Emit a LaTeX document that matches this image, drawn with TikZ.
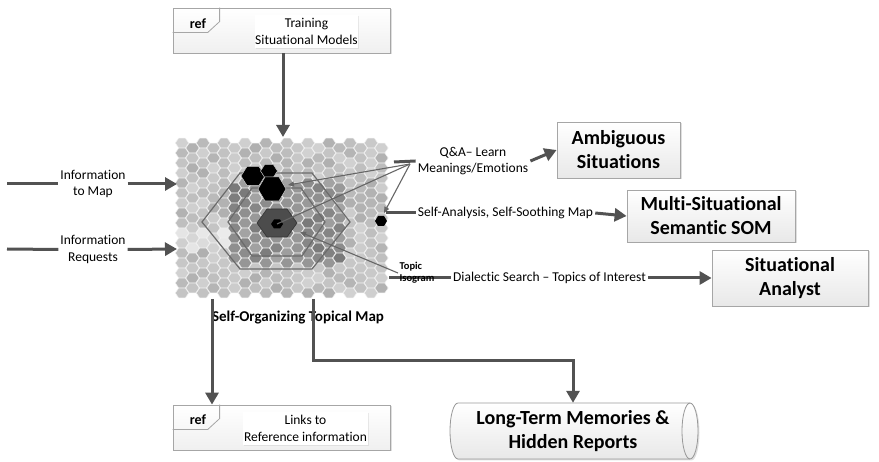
\documentclass[tikz,border=0pt]{standalone}
\usepackage{fontspec}
\setmainfont{Carlito}[Ligatures={NoCommon}]
\usetikzlibrary{arrows.meta,shadows,calc}

% flat-topped hexagon: centre x, centre y, half width, half height, path options
\newcommand\somhex[5]{\path[#5] (#1,#2) +(-#3,0) -- +(-#3/2,-#4) -- +(#3/2,-#4) -- +(#3,0) -- +(#3/2,#4) -- +(-#3/2,#4) -- cycle;}

\begin{document}
\begin{tikzpicture}[x=1pt,y=-1pt,
  conn/.style={draw=black!68, line width=3pt},
  connarrow/.style={conn, -{Triangle[length=12pt,width=13pt]}},
  thinline/.style={draw=black!60, line width=1.1pt},
  thinarrow/.style={thinline, -{Triangle[length=6pt,width=5pt]}},
  small/.style={font=\fontsize{13.5}{16.5}\selectfont, align=center, inner sep=2pt},
  boxshadow/.style={drop shadow={shadow xshift=1.5pt,shadow yshift=-1.5pt,opacity=0.25}},
  bigbox/.style={draw=black!35, line width=0.8pt, top color=white, bottom color=black!9,
    font=\bfseries\fontsize{20}{24}\selectfont, align=center, inner sep=0pt, boxshadow},
  refframe/.style={draw=black!35, line width=0.8pt, top color=white, bottom color=black!6,
    minimum width=217pt, minimum height=45pt, inner sep=0pt, boxshadow},
  reftab/.style={draw=black!35, line width=0.8pt},
  reftxt/.style={font=\bfseries\fontsize{14}{16}\selectfont, inner sep=0pt},
  reflabel/.style={fill=white, font=\fontsize{13.5}{16.5}\selectfont, align=center,
    minimum height=33pt, inner sep=0pt,
    drop shadow={shadow xshift=1pt,shadow yshift=-1pt,opacity=0.15}},
]
\useasboundingbox (0,0) rectangle (879,462);

% ---------- self-organizing map grid ----------
\foreach \c in {0,...,19}{
  \pgfmathtruncatemacro\odd{mod(\c,2)}
  \pgfmathtruncatemacro\nr{15-\odd}
  \foreach \r in {0,...,\nr}{
    \pgfmathsetmacro\hx{182+10.5*\c}
    \pgfmathsetmacro\hy{143+10*\r+5*\odd}
    \pgfmathtruncatemacro\v{mod(\c*37+\r*61+\c*\r*11,13)}
    \pgfmathtruncatemacro\inD{(\hx>227)*(\hx<350)*(\hy>181)*(\hy<264)}
    \pgfmathtruncatemacro\inL{(\hx<240)*(\hy>228)*(\hy<251)}
    \pgfmathtruncatemacro\sh{\inD*(36+1.4*\v)+\inL*(1-\inD)*(7+\v)+(1-\inD)*(1-\inL)*(18+1.1*\v)}
    \somhex{\hx}{\hy}{6.7}{4.8}{fill=black!\sh, draw=black!6, line width=0.5pt}
  }
}

% topic isogram rings
\draw[black!58, line width=1.2pt] (202,222) -- (240,173) -- (312,173) -- (350,222) -- (312,269) -- (240,269) -- cycle;
\draw[black!58, line width=1.2pt] (228,222) -- (252,188) -- (301,188) -- (325,222) -- (302,256) -- (252,256) -- cycle;

% centre of the map and highlighted cells
\somhex{277}{223}{20}{14}{fill=black!70, draw=black!80, line width=0.6pt}
\somhex{277}{224}{6}{4.5}{fill=black}
\somhex{253}{176}{12}{9.5}{fill=black, draw=black!20, line width=0.5pt}
\somhex{269}{171}{8.5}{6.5}{fill=black, draw=black!20, line width=0.5pt}
\somhex{272}{189}{14}{12}{fill=black, draw=black!20, line width=0.5pt}
\somhex{381}{221}{6}{5}{fill=black}

\node[font=\bfseries\fontsize{15}{18}\selectfont, inner sep=0pt] (title) at (298,318) {Self-Organizing Topical Map};

% ---------- reference boxes ----------
\node[refframe] (tbox) at (281.5,30.5) {};
\draw[reftab] ($(tbox.north west)+(47,0)$) -- ++(0,14) -- ++(-12,11) -- ($(tbox.north west)+(0,25)$);
\node[reftxt] (tref) at (198,24) {ref};
\node[reflabel, minimum width=103pt] (tlbl) at (306.5,31.5) {Training\\Situational Models};

\node[refframe] (lbox) at (281.5,427.5) {};
\draw[reftab] ($(lbox.north west)+(47,0)$) -- ++(0,14) -- ++(-12,11) -- ($(lbox.north west)+(0,25)$);
\node[reftxt] (lref) at (198,420) {ref};
\node[reflabel, minimum width=125pt] (llbl) at (305.5,428.5) {Links to\\Reference information};

% ---------- output boxes ----------
\node[bigbox, minimum width=123pt, minimum height=56pt] (amb) at (618.5,150) {Ambiguous\\Situations};
\node[bigbox, minimum width=168pt, minimum height=52pt] (multi) at (711,216) {Multi-Situational\\Semantic SOM};
\node[bigbox, minimum width=156pt, minimum height=56pt] (ana) at (790,278) {Situational\\Analyst};

% long-term storage cylinder
\path[draw=black!40, line width=0.8pt, top color=white, bottom color=black!9, boxshadow]
  (458,403) -- (690,403) arc[start angle=-90,end angle=90,x radius=8,y radius=28]
  -- (458,459) arc[start angle=90,end angle=270,x radius=8,y radius=28] -- cycle;
\draw[black!40, line width=0.8pt] (690,403) arc[start angle=270,end angle=90,x radius=8,y radius=28];
\node[font=\bfseries\fontsize{20}{24}\selectfont, align=center, minimum width=240pt,
  minimum height=56pt, inner sep=0pt] (ltm) at (573,431) {Long-Term Memories \&\\Hidden Reports};

% ---------- labels on the connectors ----------
\node[small] (inmap) at (93,184) {Information\\to Map};
\node[small] (inreq) at (93,249.5) {Information\\Requests};
\node[small] (qa) at (473,161) {Q\&A– Learn\\Meanings/Emotions};
\node[small] (sa) at (505.5,213) {Self-Analysis, Self-Soothing Map};
\node[small] (ds) at (549.5,278) {Dialectic Search – Topics of Interest};

% ---------- connectors ----------
\coordinate (inA) at (7,184);
\coordinate (inB) at (7,249);
\coordinate (somA) at (177,184);
\coordinate (somB) at (177,249);
\coordinate (somT) at (283,137);
\coordinate (somB1) at (212,299);
\coordinate (somB2) at (313,299);
\coordinate (eQA) at (394,162);
\coordinate (eSA) at (386,213);
\coordinate (eDS) at (389,278);

\draw[connarrow] (tbox.south -| somT) -- (somT);
\draw[conn] (inA) -- (inmap.west);
\draw[connarrow] (inmap.east) -- (somA);
\draw[conn] (inB) -- (inreq.west);
\draw[connarrow] (inreq.east) -- (somB);
\draw[connarrow] (somB1) -- (lbox.north -| somB1);
\draw[connarrow] (somB2) -- ++(0,62) -| (ltm.north);

\draw[conn] (eQA) -- (qa.west);
\draw[connarrow] (qa.east) -- (amb.west);
\draw[conn] (eSA) -- (sa.west);
\draw[connarrow] (sa.east) -- (multi.west);
\draw[conn] (eDS) -- (ds.west);
\draw[connarrow] (ds.east) -- (ana.west);

\node[font=\bfseries\fontsize{10.5}{11.5}\selectfont, align=left, inner sep=0pt] (iso) at (417,272.5) {Topic\\Isogram};

% pointers inside the map
\coordinate (hub) at (410,164);
\coordinate (tBH) at (288,185);
\coordinate (cBH) at (277,224);
\coordinate (rBH) at (384,213);
\coordinate (isoEnd) at (398,273);
\coordinate (isoTip) at (300,232);
\draw[thinarrow] (hub) -- (tBH);
\draw[thinline] (hub) -- (cBH);
\draw[thinarrow] (hub) -- (rBH);
\draw[thinarrow] (isoEnd) -- (isoTip);
\end{tikzpicture}
\end{document}
